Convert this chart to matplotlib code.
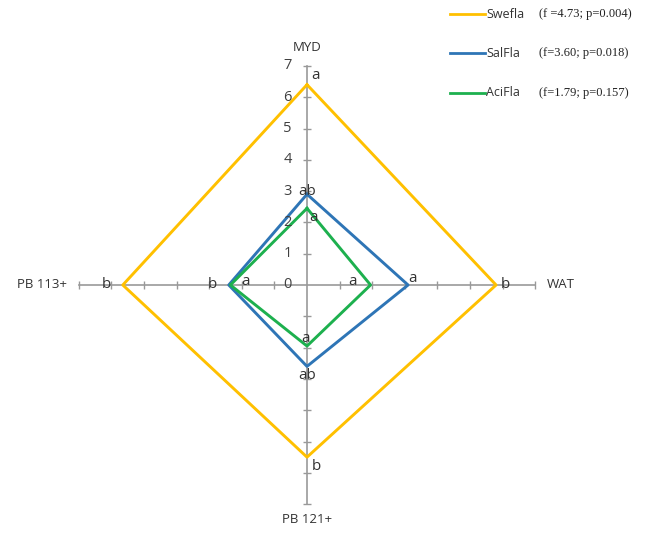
import matplotlib
matplotlib.use("Agg")
import matplotlib.pyplot as plt

# radar axes, clockwise from top
axes_names = ["MYD", "WAT", "PB 121+", "PB 113+"]
series = ["Swefla", "SalFla", "AciFla"]
stats = ["(f =4.73; p=0.004)", "(f=3.60; p=0.018)", "(f=1.79; p=0.157)"]
colors = ["#FFC000", "#2E75B6", "#1DB04E"]

swefla = [6.4, 5.8, 5.5, 5.65]
salfla = [2.9, 3.1, 2.6, 2.4]
aciflа = [2.45, 1.95, 1.95, 2.35]
values = [swefla, salfla, aciflа]

letters = [["a", "b", "b", "b"],
           ["ab", "a", "ab", "b"],
           ["a", "a", "a", "a"]]

ticks = [0, 1, 2, 3, 4, 5, 6, 7]

# direction of each radar axis in x/y
dirs = [(0, 1), (1, 0), (0, -1), (-1, 0)]

fig = plt.figure(figsize=(6.57, 5.34), dpi=100)
ax = fig.add_axes([0, 0, 1, 1])
ax.set_xlim(-307 / 32.6, 350 / 32.6)
ax.set_ylim(-249 / 31.3, 285 / 31.3)
ax.axis("off")

# axes cross
ax.plot([-7, 7], [0, 0], color="#999999", lw=1.2, zorder=1)
ax.plot([0, 0], [-7, 7], color="#999999", lw=1.2, zorder=1)
for t in ticks[1:]:
    ax.plot([t, -t], [0, 0], ls="none", marker="|", ms=6, mew=1, color="#999999", zorder=1)
    ax.plot([0, 0], [t, -t], ls="none", marker="_", ms=6, mew=1, color="#999999", zorder=1)
for t in ticks:
    ax.text(-0.6, t, str(t), ha="center", va="center", fontsize=10.5,
            family="Open Sans", color="#404040")

# axis names
kw = dict(fontsize=9.5, family="Open Sans", color="#333333", va="center")
ax.text(0, 7.6, axes_names[0], ha="center", **kw)
ax.text(7.35, 0, axes_names[1], ha="left", **kw)
ax.text(0, -7.5, axes_names[2], ha="center", **kw)
ax.text(-7.35, 0, axes_names[3], ha="right", **kw)

for vals, col in zip(values, colors):
    xs = [d[0] * v for d, v in zip(dirs, vals)]
    ys = [d[1] * v for d, v in zip(dirs, vals)]
    ax.plot(xs + xs[:1], ys + ys[:1], color=col, lw=2.1, zorder=2)

# significance letters (offsets relative to the vertex)
offs = [
    [(0.25, 0.3), (0.3, 0.0), (0.3, -0.3), (-0.5, 0.0)],
    [(0.0, 0.1), (0.15, 0.2), (0.0, -0.3), (-0.5, 0.0)],
    [(0.2, -0.3), (-0.55, 0.1), (-0.05, 0.25), (0.45, 0.1)],
]
for vals, labs, off in zip(values, letters, offs):
    for d, v, lab, o in zip(dirs, vals, labs, off):
        ax.text(d[0] * v + o[0], d[1] * v + o[1], lab, ha="center", va="center",
                fontsize=11, family="Open Sans", color="#333333", zorder=3)

# legend
for i, (name, st, col) in enumerate(zip(series, stats, colors)):
    y = 8.65 - i * 1.25
    ax.plot([4.4, 5.45], [y, y], color=col, lw=2)
    ax.text(5.5, y, name, ha="left", va="center", fontsize=9, family="Open Sans", color="#333333")
    ax.text(7.12, y, st, ha="left", va="center", fontsize=9, family="Liberation Serif", color="#222222")

fig.savefig("out.png", dpi=100)
